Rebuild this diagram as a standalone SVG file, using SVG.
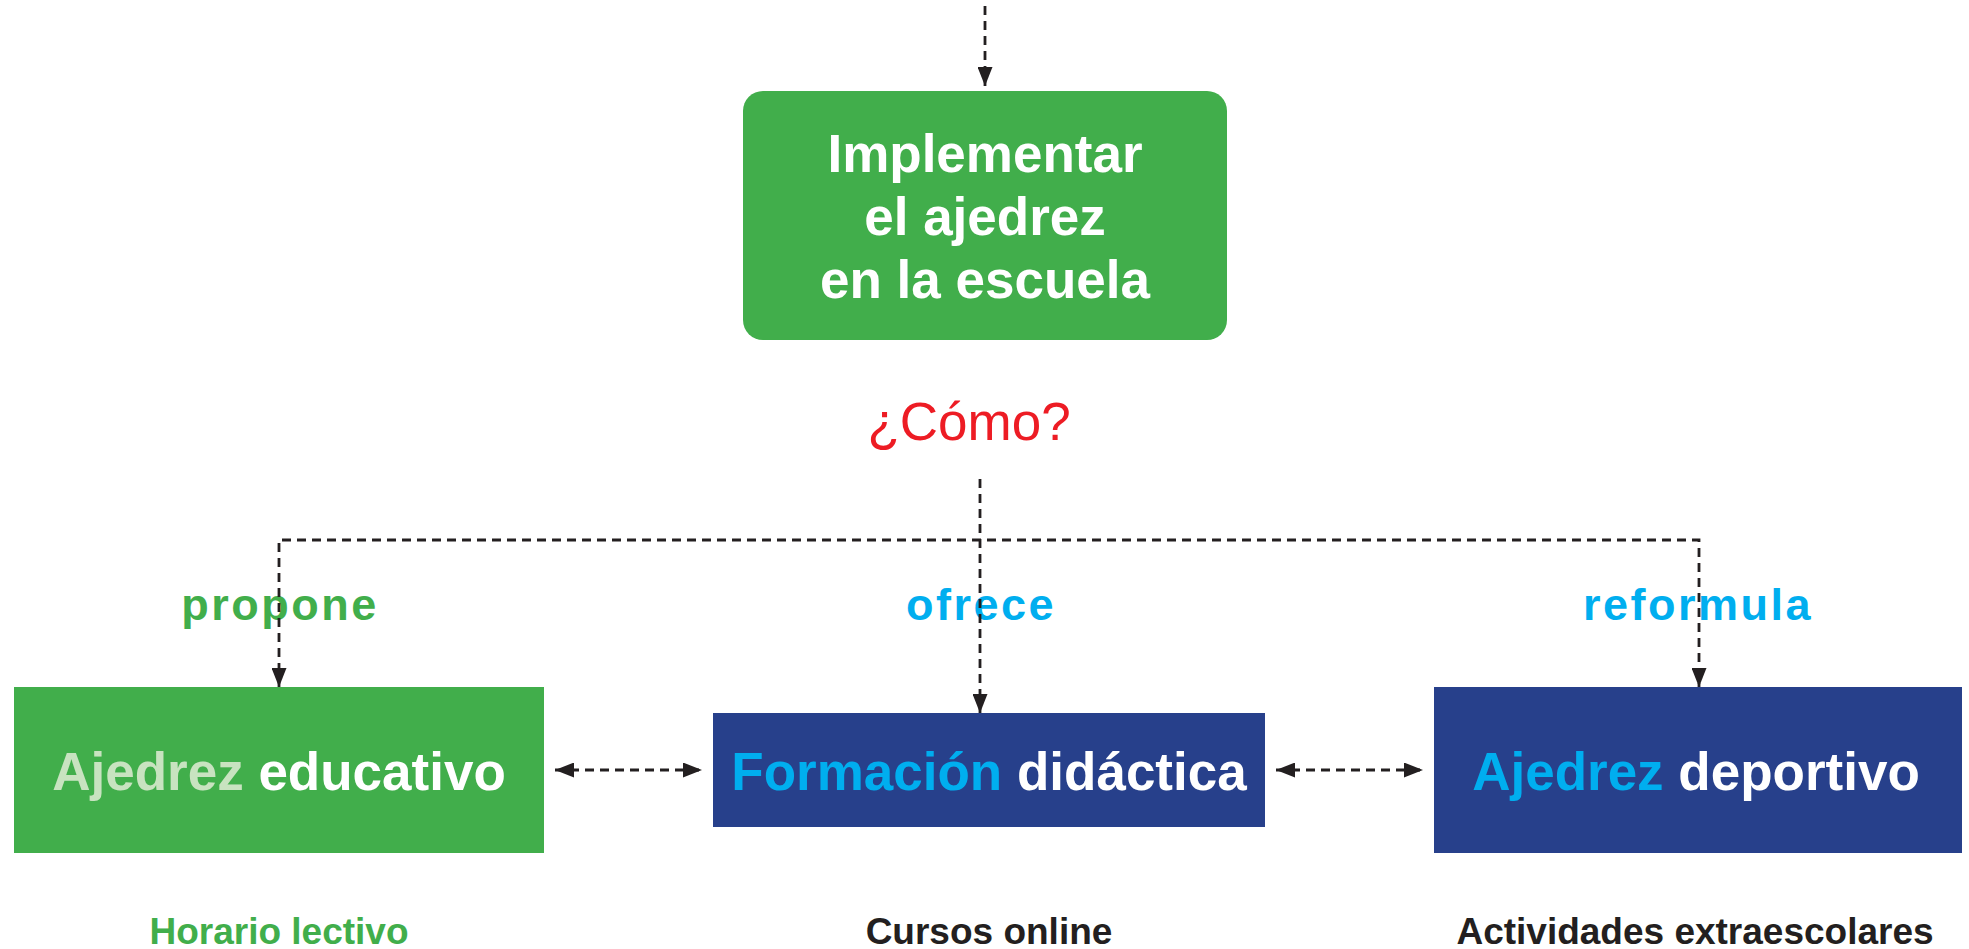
<svg xmlns="http://www.w3.org/2000/svg" width="1969" height="949" viewBox="0 0 1969 949">
<style>
  .bold { font-family: "Liberation Sans", Arial, sans-serif; font-weight: bold; }
  .reg { font-family: "Liberation Sans", Arial, sans-serif; }
  .box-text { font-size: 53px; text-anchor: middle; }
  .lbl { font-size: 45px; letter-spacing: 2.5px; text-anchor: middle; }
  .bottom { font-size: 37px; text-anchor: middle; }
  .dash { fill: none; stroke: #231f20; stroke-width: 2.8; stroke-dasharray: 9 6; }
  .green { fill: #41ae4b; }
  .blue { fill: #27408b; }
  .cyan { fill: #00aeef; }
  .white { fill: #ffffff; }
  .pale { fill: #c8e3c0; }
  .dark { fill: #231f20; }
</style>
<defs>
  <marker id="arr" markerUnits="userSpaceOnUse" markerWidth="19" markerHeight="15" refX="19" refY="7.5" orient="auto-start-reverse">
    <path d="M0,0 L19,7.5 L0,15 z" fill="#231f20"/>
  </marker>
</defs>
<rect width="1969" height="949" fill="#ffffff"/>

<g id="node-implementar">
  <rect x="743" y="91" width="484" height="249" rx="20" ry="20" class="green"/>
  <text class="bold box-text white" x="985" y="172">Implementar</text>
  <text class="bold box-text white" x="985" y="235">el ajedrez</text>
  <text class="bold box-text white" x="985" y="298">en la escuela</text>
</g>

<g id="node-como">
  <text class="reg" x="969" y="440" font-size="53" text-anchor="middle" fill="#ed1c24">¿Cómo?</text>
</g>

<g id="labels">
  <text class="bold lbl green" x="280" y="620">propone</text>
  <text class="bold lbl cyan" x="981" y="620">ofrece</text>
  <text class="bold lbl cyan" x="1698" y="620">reformula</text>
</g>

<g id="node-educativo">
  <rect x="14" y="687" width="530" height="166" class="green"/>
  <text class="bold box-text" x="279" y="790"><tspan class="pale">Ajedrez</tspan><tspan class="white"> educativo</tspan></text>
</g>

<g id="node-formacion">
  <rect x="713" y="713" width="552" height="114" class="blue"/>
  <text class="bold box-text" x="989" y="790"><tspan class="cyan">Formación</tspan><tspan class="white"> didáctica</tspan></text>
</g>

<g id="node-deportivo">
  <rect x="1434" y="687" width="528" height="166" class="blue"/>
  <text class="bold box-text" x="1696" y="790"><tspan class="cyan">Ajedrez</tspan><tspan class="white"> deportivo</tspan></text>
</g>

<g id="node-horario">
  <text class="bold bottom green" x="279" y="944">Horario lectivo</text>
</g>
<g id="node-cursos">
  <text class="bold bottom dark" x="989" y="944">Cursos online</text>
</g>
<g id="node-actividades">
  <text class="bold bottom dark" x="1695" y="944">Actividades extraescolares</text>
</g>

<g id="connectors">
  <path class="dash" d="M985,6 V86" marker-end="url(#arr)"/>
  <path class="dash" d="M980,479 V713" marker-end="url(#arr)"/>
  <path class="dash" d="M279,687 V540 H1699 V687" marker-start="url(#arr)" marker-end="url(#arr)"/>
  <path class="dash" d="M555,770 H702" marker-start="url(#arr)" marker-end="url(#arr)"/>
  <path class="dash" d="M1276,770 H1423" marker-start="url(#arr)" marker-end="url(#arr)"/>
</g>
</svg>
